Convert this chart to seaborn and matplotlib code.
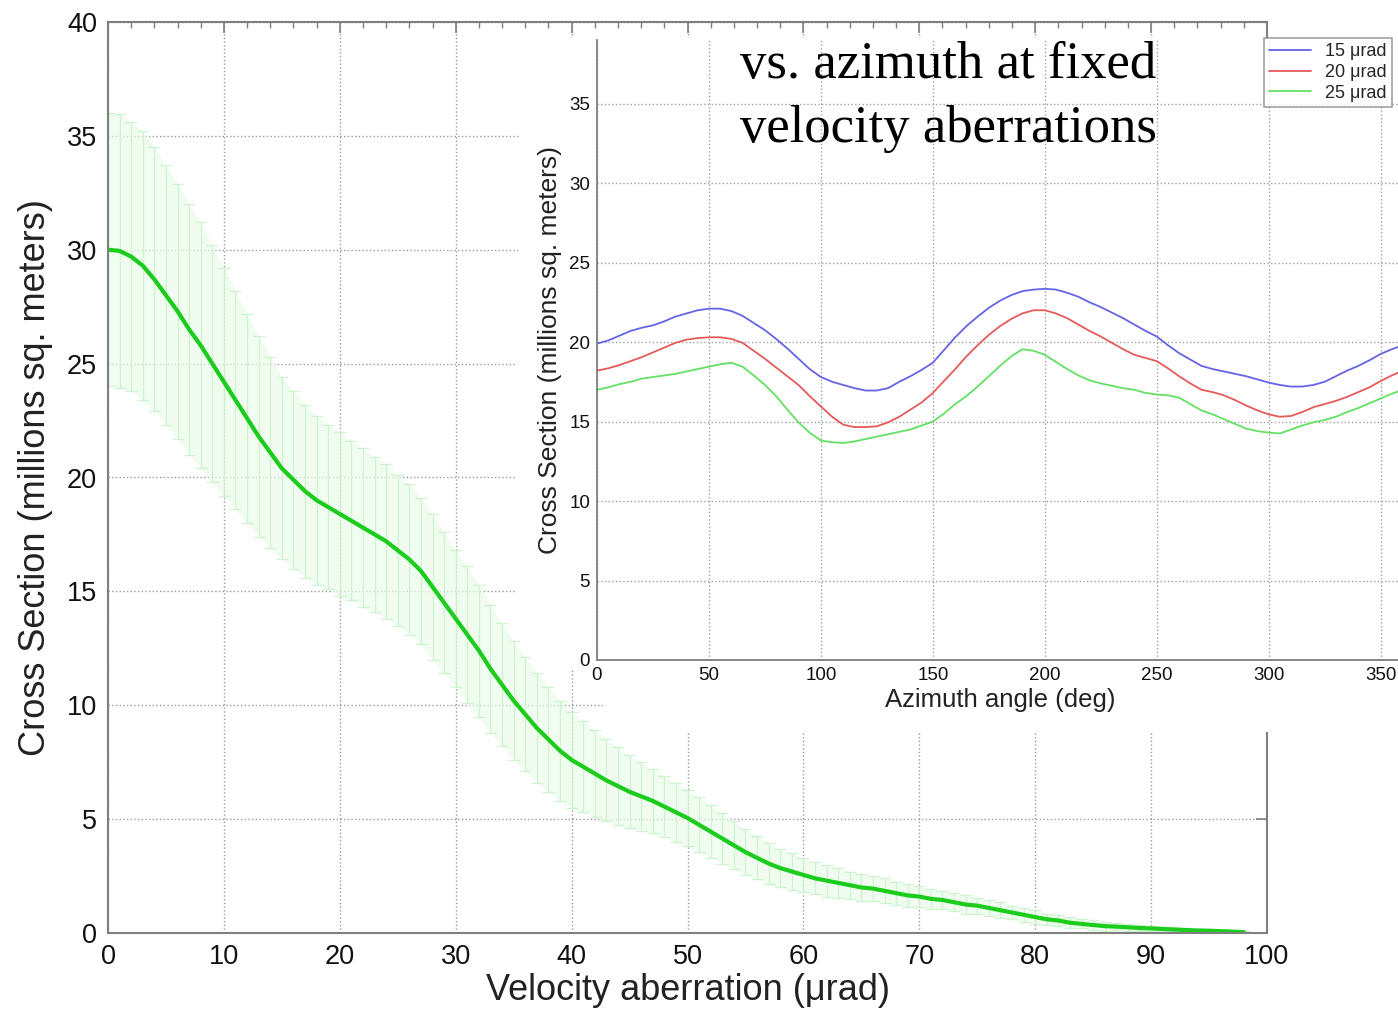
import numpy as np
import pandas as pd
import matplotlib
matplotlib.use('Agg')
import matplotlib.pyplot as plt
from matplotlib.patches import Polygon
from matplotlib.ticker import MultipleLocator
import seaborn as sns

# =============================================================================
#  Data
# =============================================================================

# main plot: cross section vs velocity aberration (urad), step 1
aberration = list(range(0, 99))
cross_mean = [30.0, 29.95, 29.7, 29.3, 28.7, 28.0, 27.3, 26.5, 25.8, 25.0,
              24.2, 23.4, 22.6, 21.8, 21.1, 20.4, 19.9, 19.4, 19.0, 18.7,
              18.4, 18.1, 17.8, 17.5, 17.2, 16.8, 16.4, 15.9, 15.2, 14.5,
              13.8, 13.1, 12.4, 11.6, 10.9, 10.2, 9.6, 9.0, 8.5, 8.0,
              7.6, 7.3, 7.0, 6.7, 6.45, 6.2, 6.0, 5.8, 5.55, 5.3,
              5.05, 4.75, 4.45, 4.15, 3.85, 3.55, 3.3, 3.05, 2.85, 2.7,
              2.55, 2.4, 2.3, 2.2, 2.1, 2.0, 1.95, 1.85, 1.75, 1.65,
              1.6, 1.5, 1.45, 1.35, 1.25, 1.2, 1.1, 1.0, 0.9, 0.8,
              0.7, 0.6, 0.55, 0.45, 0.4, 0.35, 0.3, 0.28, 0.25, 0.22,
              0.2, 0.18, 0.15, 0.13, 0.11, 0.1, 0.08, 0.06, 0.04]
cross_err = [6.0, 6.0, 5.9, 5.9, 5.8, 5.7, 5.6, 5.5, 5.4, 5.2,
             5.0, 4.8, 4.6, 4.4, 4.2, 4.0, 3.9, 3.8, 3.7, 3.6,
             3.6, 3.5, 3.5, 3.4, 3.4, 3.3, 3.3, 3.2, 3.2, 3.1,
             3.0, 3.0, 2.9, 2.8, 2.7, 2.6, 2.5, 2.4, 2.3, 2.2,
             2.1, 2.0, 1.9, 1.8, 1.7, 1.6, 1.5, 1.4, 1.35, 1.3,
             1.25, 1.2, 1.15, 1.1, 1.05, 1.0, 0.95, 0.9, 0.85, 0.8,
             0.75, 0.7, 0.7, 0.65, 0.6, 0.6, 0.55, 0.55, 0.5, 0.5,
             0.45, 0.45, 0.4, 0.4, 0.4, 0.35, 0.35, 0.35, 0.3, 0.3,
             0.3, 0.25, 0.25, 0.25, 0.2, 0.2, 0.2, 0.15, 0.15, 0.15,
             0.1, 0.1, 0.1, 0.1, 0.08, 0.08, 0.06, 0.05, 0.04]

# inset: cross section vs azimuth (deg), step 5
azimuth = list(range(0, 361, 5))
cs_15 = [19.9, 20.1, 20.4, 20.7, 20.9, 21.05, 21.3, 21.6, 21.8, 22.0,
         22.1, 22.1, 21.95, 21.65, 21.2, 20.75, 20.2, 19.6, 18.95, 18.3,
         17.8, 17.5, 17.3, 17.1, 16.95, 16.95, 17.1, 17.5, 17.85, 18.25,
         18.7, 19.5, 20.3, 21.0, 21.6, 22.15, 22.6, 22.95, 23.2, 23.3,
         23.35, 23.3, 23.1, 22.85, 22.5, 22.2, 21.85, 21.5, 21.1, 20.7,
         20.35, 19.8, 19.3, 18.9, 18.5, 18.3, 18.15, 18.0, 17.85, 17.65,
         17.45, 17.3, 17.2, 17.2, 17.3, 17.5, 17.85, 18.2, 18.5, 18.85,
         19.25, 19.55, 19.8]
cs_20 = [18.2, 18.35, 18.55, 18.8, 19.05, 19.35, 19.65, 19.95, 20.15, 20.25,
         20.3, 20.3, 20.2, 19.95, 19.45, 18.95, 18.4, 17.85, 17.3, 16.6,
         15.95, 15.3, 14.8, 14.65, 14.65, 14.7, 14.95, 15.3, 15.75, 16.2,
         16.8, 17.55, 18.3, 19.1, 19.8, 20.45, 21.0, 21.45, 21.8, 22.0,
         22.0, 21.8, 21.5, 21.1, 20.7, 20.35, 19.95, 19.55, 19.2, 19.0,
         18.8, 18.35, 17.85, 17.4, 17.0, 16.85, 16.65, 16.35, 16.0, 15.7,
         15.45, 15.3, 15.35, 15.6, 15.9, 16.1, 16.3, 16.55, 16.85, 17.15,
         17.55, 17.9, 18.2]
cs_25 = [17.0, 17.15, 17.35, 17.5, 17.7, 17.8, 17.9, 18.0, 18.15, 18.3,
         18.45, 18.6, 18.7, 18.45, 17.9, 17.3, 16.6, 15.75, 14.95, 14.3,
         13.8, 13.7, 13.65, 13.75, 13.9, 14.05, 14.2, 14.35, 14.5, 14.75,
         15.0, 15.5, 16.1, 16.6, 17.2, 17.85, 18.5, 19.1, 19.55, 19.45,
         19.2, 18.75, 18.3, 17.9, 17.6, 17.4, 17.25, 17.1, 17.0, 16.8,
         16.7, 16.65, 16.5, 16.1, 15.7, 15.45, 15.15, 14.85, 14.55, 14.4,
         14.3, 14.25, 14.5, 14.75, 14.95, 15.1, 15.3, 15.6, 15.85, 16.15,
         16.45, 16.75, 17.0]
series_labels = ['15 \u03bcrad', '20 \u03bcrad', '25 \u03bcrad']
series_colors = ['#6464e6', '#e65a5a', '#64e064']

# =============================================================================
#  Figure
# =============================================================================

sns.set_theme(style='white')
plt.rcParams['font.family'] = ['Liberation Sans', 'DejaVu Sans']
plt.rcParams['axes.edgecolor'] = '#7f7f7f'
plt.rcParams['xtick.color'] = '#7f7f7f'
plt.rcParams['ytick.color'] = '#7f7f7f'
plt.rcParams['xtick.labelcolor'] = '#111111'
plt.rcParams['ytick.labelcolor'] = '#111111'

W, H = 1398, 1014
fig = plt.figure(figsize=(W / 100, H / 100), dpi=100)
fig.patch.set_facecolor('white')


def fig_box(x0, y0, x1, y1):
    # pixel box (top-left origin) -> figure fraction rect
    return [x0 / W, 1 - y1 / H, (x1 - x0) / W, (y1 - y0) / H]


# ---- main axes -------------------------------------------------------------
ax = fig.add_axes(fig_box(108, 22, 1267, 933))
ax.set_zorder(0)

lo = [m - e for m, e in zip(cross_mean, cross_err)]
hi = [m + e for m, e in zip(cross_mean, cross_err)]
ax.fill_between(aberration, lo, hi, color='#eafbea', alpha=0.7, linewidth=0)
ax.errorbar(aberration, cross_mean, yerr=cross_err, fmt='none',
            ecolor='#c2f2c2', elinewidth=0.9, capsize=4, capthick=0.9, alpha=0.75)
sns.lineplot(x=aberration, y=cross_mean, ax=ax, color='#1ccc1c', linewidth=3)

ax.set_xlim(0, 100)
ax.set_ylim(0, 40)
ax.xaxis.set_major_locator(MultipleLocator(10))
ax.xaxis.set_minor_locator(MultipleLocator(2))
ax.yaxis.set_major_locator(MultipleLocator(5))
ax.tick_params(which='both', direction='in', top=True, right=True)
ax.tick_params(which='major', length=8, width=1.2, labelsize=19.5, pad=8)
ax.tick_params(which='minor', length=4, width=1.0)
ax.grid(True, which='major', linestyle=':', color='#9a9a9a', linewidth=1)
for s in ax.spines.values():
    s.set_linewidth(1.5)
ax.set_xlabel('Velocity aberration (\u03bcrad)', fontsize=26, color='#222222', labelpad=2)
ax.set_ylabel('Cross Section (millions sq. meters)', fontsize=26, color='#222222', labelpad=10)

# ---- white patch of the pasted inset --------------------------------------
pts = [(520, 38), (1398, 38), (1398, 732), (625, 732), (515, 600)]
patch = Polygon([(x / W, 1 - y / H) for x, y in pts], closed=True,
                transform=fig.transFigure, facecolor='white', edgecolor='none', zorder=1)
fig.add_artist(patch)

# ---- inset axes ------------------------------------------------------------
ins = fig.add_axes(fig_box(597, 40, 1403, 660))
ins.set_zorder(2)
ins.patch.set_alpha(0)

df = pd.DataFrame({
    'Azimuth': azimuth * 3,
    'Cross': cs_15 + cs_20 + cs_25,
    'Series': [series_labels[0]] * len(azimuth) + [series_labels[1]] * len(azimuth)
              + [series_labels[2]] * len(azimuth),
})
sns.lineplot(data=df, x='Azimuth', y='Cross', hue='Series', ax=ins,
             palette=dict(zip(series_labels, series_colors)), linewidth=1.3)

ins.set_xlim(0, 360)
ins.set_ylim(0, 39)
ins.xaxis.set_major_locator(MultipleLocator(50))
ins.xaxis.set_minor_locator(MultipleLocator(10))
ins.yaxis.set_major_locator(MultipleLocator(5))
ins.tick_params(which='both', direction='in')
ins.tick_params(which='major', length=6, width=1.0, labelsize=13.5, pad=5)
ins.tick_params(which='minor', length=3, width=0.8)
ins.grid(True, which='major', linestyle=':', color='#a0a0a0', linewidth=1)
ins.spines['top'].set_visible(False)
ins.spines['right'].set_visible(False)
for s in ['left', 'bottom']:
    ins.spines[s].set_linewidth(1.3)
ins.set_xlabel('Azimuth angle (deg)', fontsize=18.5, color='#222222', labelpad=3)
ins.set_ylabel('Cross Section (millions sq. meters)', fontsize=19, color='#222222', labelpad=5)

leg = ins.legend(loc='upper right', bbox_to_anchor=(1392 / W, 1 - 38 / H),
                 bbox_transform=fig.transFigure, fontsize=13, frameon=True,
                 fancybox=False, edgecolor='#8a8a8a', borderaxespad=0,
                 handlelength=2.3, labelspacing=0.2, borderpad=0.3)
leg.get_frame().set_linewidth(1.2)
leg.set_title(None)

fig.text(740 / W, 1 - 41 / H, 'vs. azimuth at fixed\nvelocity aberrations',
         family=['Liberation Serif', 'DejaVu Serif'], fontsize=38, va='top',
         ha='left', color='black', linespacing=1.42, zorder=3)

plt.savefig('out.png', dpi=100, facecolor='white')
